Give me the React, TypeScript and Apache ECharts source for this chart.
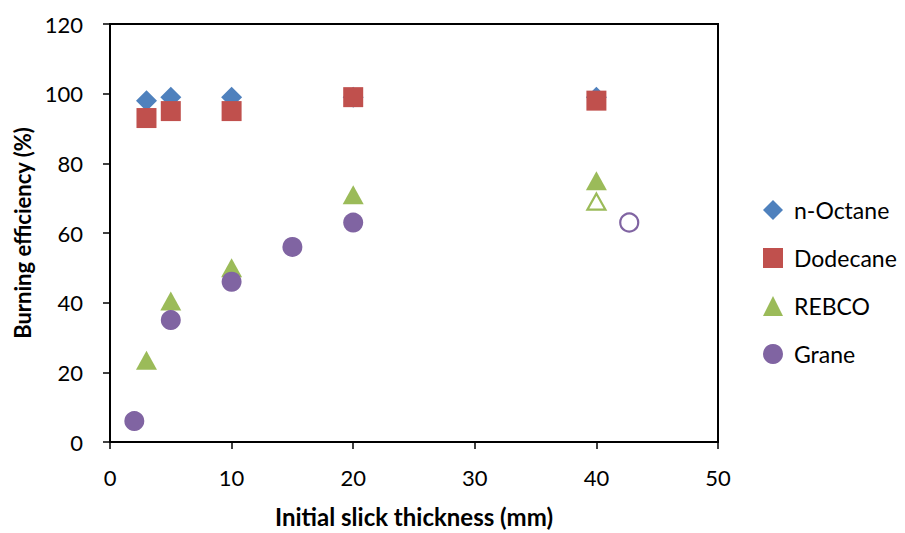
import React, { useEffect, useRef } from "react";
import * as echarts from "echarts";

const xOctane = [3, 5, 10, 20, 40];
const yOctane = [98, 99, 99, 99, 99];
const xDodecane = [3, 5, 10, 20, 40];
const yDodecane = [93, 95, 95, 99, 98];
const xRebco = [3, 5, 10, 20, 40];
const yRebco = [23.5, 40.5, 50, 71, 75];
const xRebcoOpen = [40];
const yRebcoOpen = [69];
const xGrane = [2, 5, 10, 15, 20];
const yGrane = [6, 35, 46, 56, 63];
const xGraneOpen = [42.7];
const yGraneOpen = [63];

const pairs = (xs: number[], ys: number[]) => xs.map((x, i) => [x, ys[i]]);

const FONT = "Lato";

export default function App() {
  const ref = useRef<HTMLDivElement>(null);
  useEffect(() => {
    if (!ref.current) return;
    const chart = echarts.init(ref.current, null, { renderer: "svg" });
    chart.setOption({
      animation: false,
      backgroundColor: "#fff",
      textStyle: { fontFamily: FONT },
      grid: {
        left: 110,
        right: 187,
        top: 24,
        bottom: 86,
        show: true,
        borderColor: "#000",
        borderWidth: 2,
      },
      xAxis: {
        type: "value",
        min: 0,
        max: 50,
        interval: 10,
        name: "Initial slick thickness (mm)",
        nameLocation: "middle",
        nameGap: 62,
        nameTextStyle: { fontFamily: FONT, fontSize: 24, fontWeight: "bold", color: "#000" },
        axisLine: { show: true, lineStyle: { color: "#000", width: 2 } },
        axisTick: { show: true, inside: false, length: 7, lineStyle: { color: "#000", width: 1.5 } },
        axisLabel: { fontFamily: FONT, fontSize: 22, color: "#000", margin: 24 },
        splitLine: { show: false },
      },
      yAxis: {
        type: "value",
        min: 0,
        max: 120,
        interval: 20,
        name: "Burning efficiency (%)",
        nameLocation: "middle",
        nameGap: 77,
        nameTextStyle: { fontFamily: FONT, fontSize: 22, fontWeight: "bold", color: "#000" },
        axisLine: { show: true, lineStyle: { color: "#000", width: 2 } },
        axisTick: { show: true, inside: false, length: 7, lineStyle: { color: "#000", width: 1.5 } },
        axisLabel: { fontFamily: FONT, fontSize: 22, color: "#000", margin: 27 },
        splitLine: { show: false },
      },
      legend: {
        orient: "vertical",
        left: 763,
        top: 198.5,
        padding: 0,
        itemWidth: 20,
        itemHeight: 20,
        itemGap: 25,
        textStyle: { fontFamily: FONT, fontSize: 23, color: "#000", padding: [0, 0, 0, 6] },
        data: ["n-Octane", "Dodecane", "REBCO", "Grane"],
      },
      series: [
        {
          name: "REBCO",
          type: "scatter",
          symbol: "triangle",
          symbolSize: [21, 19],
          itemStyle: { color: "#9BBB59", opacity: 1 },
          data: pairs(xRebco, yRebco),
          z: 2,
        },
        {
          name: "REBCO open",
          type: "scatter",
          symbol: "triangle",
          symbolSize: [18, 16],
          itemStyle: { color: "#fff", borderColor: "#9BBB59", borderWidth: 2.2, opacity: 1 },
          data: pairs(xRebcoOpen, yRebcoOpen),
          z: 2,
        },
        {
          name: "Grane",
          type: "scatter",
          symbol: "circle",
          symbolSize: 20,
          itemStyle: { color: "#8064A2", opacity: 1 },
          data: pairs(xGrane, yGrane),
          z: 3,
        },
        {
          name: "Grane open",
          type: "scatter",
          symbol: "circle",
          symbolSize: 18,
          itemStyle: { color: "#fff", borderColor: "#8064A2", borderWidth: 2.2, opacity: 1 },
          data: pairs(xGraneOpen, yGraneOpen),
          z: 3,
        },
        {
          name: "n-Octane",
          type: "scatter",
          symbol: "diamond",
          symbolSize: 21,
          itemStyle: { color: "#4F81BD", opacity: 1 },
          data: pairs(xOctane, yOctane),
          z: 4,
        },
        {
          name: "Dodecane",
          type: "scatter",
          symbol: "rect",
          symbolSize: 20,
          itemStyle: { color: "#C0504D", opacity: 1 },
          data: pairs(xDodecane, yDodecane),
          z: 5,
        },
      ],
    });
    return () => chart.dispose();
  }, []);
  return (
    <div
      ref={ref}
      style={{ position: "fixed", left: 0, top: 0, width: 905, height: 533 }}
    />
  );
}
